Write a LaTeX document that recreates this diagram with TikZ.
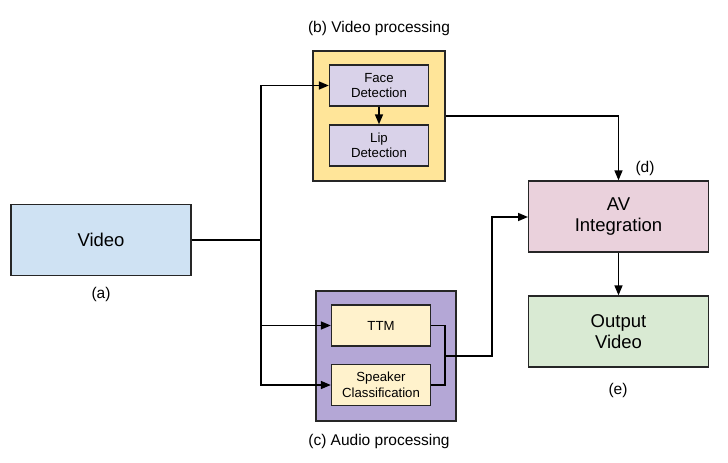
\documentclass[tikz,border=0pt]{standalone}
\usepackage{fontspec}
\setmainfont{Liberation Sans}
\usetikzlibrary{arrows.meta}
\definecolor{vidblue}{HTML}{CFE2F3}
\definecolor{procyellow}{HTML}{FFE599}
\definecolor{lavender}{HTML}{D9D2E9}
\definecolor{procpurple}{HTML}{B4A7D6}
\definecolor{cream}{HTML}{FFF2CC}
\definecolor{avpink}{HTML}{EAD1DC}
\definecolor{outgreen}{HTML}{D9EAD3}
\tikzset{
  box/.style = {draw=black!85, line width=1.3pt, inner sep=0pt, align=center},
  bigbox/.style = {box, minimum width=180pt, minimum height=71pt, font=\fontsize{18.5}{21}\selectfont},
  smallbox/.style = {box, minimum width=99pt, minimum height=41pt, font=\fontsize{13.2}{15.5}\selectfont},
  lbl/.style = {font=\fontsize{15.5}{18}\selectfont},
  conn/.style = {draw=black, line width=1.5pt},
  arr/.style = {conn, -{Triangle[length=10pt, width=8pt]}}
}
\begin{document}
\begin{tikzpicture}[x=1pt, y=-1pt]
        \useasboundingbox (0,0) rectangle (728,463);
        % outer processing blocks
        \node[box, fill=procyellow, minimum width=132pt, minimum height=130pt] (vproc) at (379,116) {};
        \node[box, fill=procpurple, minimum width=140pt, minimum height=130pt] (aproc) at (386,356) {};
        \node[lbl] (vproclbl) at (379,28) {(b) Video processing};
        \node[lbl] (aproclbl) at (379,441) {(c) Audio processing};
        % boxes
        \node[bigbox, fill=vidblue] (video) at (101,240) {Video};
        \node[lbl] (videolbl) at (101,294) {(a)};
        \node[smallbox, fill=lavender] (face) at (379,85.5) {Face\\Detection};
        \node[smallbox, fill=lavender] (lip) at (379,145.5) {Lip\\Detection};
        \node[smallbox, fill=cream] (ttm) at (381,325.5) {TTM};
        \node[smallbox, fill=cream] (speaker) at (381,385) {Speaker\\Classification};
        \node[bigbox, fill=avpink] (av) at (618.5,216.5) {AV\\Integration};
        \node[lbl] (avlbl) at (645,168) {(d)};
        \node[bigbox, fill=outgreen] (out) at (618.5,331.5) {Output\\Video};
        \node[lbl] (outlbl) at (618,390) {(e)};
        % connectors
        \coordinate (split) at (261,240);
        \coordinate (join) at (445,356);
        \coordinate (avin) at (528,217);
        \draw[conn] (video.east) -- (split);
        \draw[arr] (split) |- (face.west);
        \draw[arr] (split) |- (ttm.west);
        \draw[arr] (split) |- (speaker.west);
        \draw[arr] (face) -- (lip);
        \draw[arr] (vproc.east) -| (av.north);
        \draw[conn] (ttm.east) -| (join) |- (speaker.east);
        \draw[arr] (join) -- (492,356) |- (avin);
        \draw[arr] (av) -- (out);
\end{tikzpicture}
\end{document}
